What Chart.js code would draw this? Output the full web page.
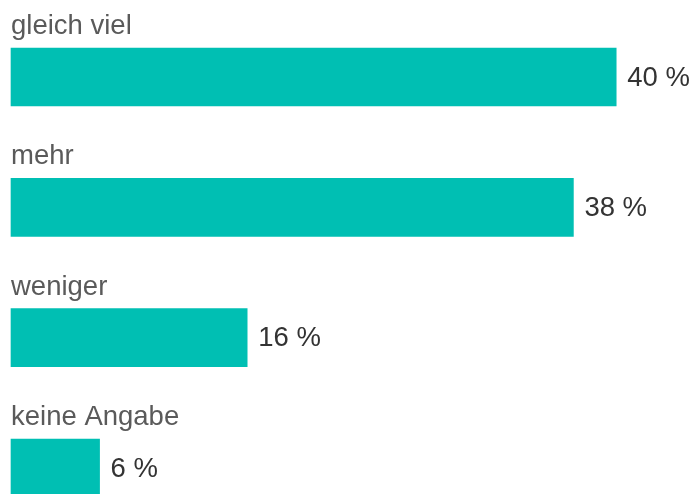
<!DOCTYPE html>
<html><head><meta charset="utf-8">
<style>html,body{margin:0;padding:0;background:#fff;overflow:hidden}#wrap{width:695px;height:494px;position:relative}</style>
<script src="https://cdn.jsdelivr.net/npm/chart.js@4.4.1/dist/chart.umd.min.js"></script>
</head><body><div id="wrap"><canvas id="c" width="695" height="494"></canvas></div>
<script>
const categories = ['gleich viel', 'mehr', 'weniger', 'keine Angabe'];
const values = [41, 38.1, 16, 6];
const valueLabels = ['40 %', '38 %', '16 %', '6 %'];

const FONT = '"Liberation Sans", Arial, Helvetica, sans-serif';

const labelPlugin = {
  id: 'labels',
  afterDatasetsDraw(chart) {
    const ctx = chart.ctx;
    const meta = chart.getDatasetMeta(0);
    ctx.save();
    meta.data.forEach((el, i) => {
      const top = el.y - el.height / 2;
      ctx.font = '27.5px ' + FONT;
      ctx.fillStyle = '#5a5a5a';
      ctx.textAlign = 'left';
      ctx.textBaseline = 'alphabetic';
      ctx.fillText(categories[i], el.base, top - 14);
      ctx.fillStyle = '#333333';
      ctx.textBaseline = 'middle';
      ctx.fillText(valueLabels[i], el.x + 11, el.y + 1);
    });
    ctx.restore();
  }
};

new Chart(document.getElementById('c'), {
  type: 'bar',
  data: {
    labels: categories,
    datasets: [{
      data: values,
      backgroundColor: '#00bfb3',
      borderWidth: 0,
      barThickness: 58,
      clip: false
    }]
  },
  options: {
    indexAxis: 'y',
    responsive: false,
    animation: false,
    devicePixelRatio: 1,
    layout: { padding: { top: 77, bottom: 26, left: 11, right: 5 } },
    plugins: { legend: { display: false }, tooltip: { enabled: false } },
    scales: {
      x: { display: false, min: 0, max: 46 },
      y: { display: false, offset: false }
    }
  },
  plugins: [labelPlugin]
});
</script>
</body></html>
